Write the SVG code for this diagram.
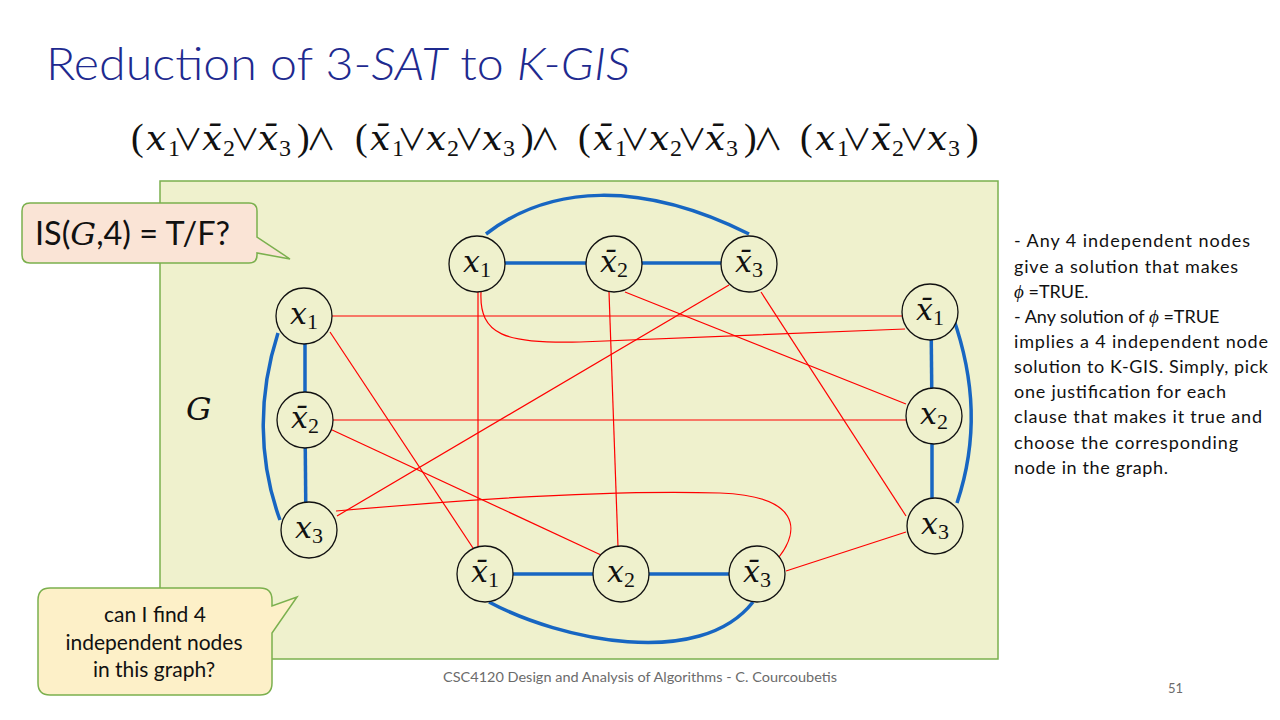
<svg xmlns="http://www.w3.org/2000/svg" width="1280" height="720" viewBox="0 0 1280 720">
<style>
.sans{font-family:Lato,"Liberation Sans",sans-serif}
.blue{stroke:#1766C2;stroke-width:3.5;fill:none;stroke-linecap:butt}
.red{stroke:#FF0000;stroke-width:1.2;fill:none}
.node circle{fill:#EFF1CD;stroke:#111;stroke-width:1.3}
.fm{font-family:"Liberation Serif","DejaVu Serif",serif;fill:#111}
.i{font-family:"DejaVu Serif",serif;font-style:italic;font-size:36px}
.s{font-size:24px}
.p{font-size:38px}
.op{font-family:"Noto Sans CJK JP","DejaVu Sans",sans-serif;font-size:30px;text-anchor:middle}
.nl{font-family:"Liberation Serif","DejaVu Serif",serif;fill:#111}
.nx{font-family:"DejaVu Serif",serif;font-style:italic;font-size:30px}
.ns{font-size:22px}
.rt{font-family:Lato,"Liberation Sans",sans-serif;font-size:18px;fill:#111}
.phi{font-family:"Liberation Serif","DejaVu Serif",serif;font-style:italic;font-size:19px}
</style>
<rect width="1280" height="720" fill="#ffffff"/>
<text class="sans" x="46" y="80" font-size="46" font-weight="300" fill="#1E2A8F" textLength="584" lengthAdjust="spacingAndGlyphs">Reduction of 3-<tspan font-style="italic">SAT</tspan> to <tspan font-style="italic">K-GIS</tspan></text>

<g id="formula">
<g transform="translate(131,0)"><text class="fm"><tspan class="p" x="0" y="150">(</tspan><tspan class="i" x="15" y="150">x</tspan><tspan class="s" x="37" y="156">1</tspan><tspan class="op" x="57" y="150">∨</tspan><tspan class="i" x="71" y="150">x̄</tspan><tspan class="s" x="92" y="156">2</tspan><tspan class="op" x="114" y="150">∨</tspan><tspan class="i" x="127" y="150">x̄</tspan><tspan class="s" x="148" y="156">3</tspan><tspan class="p" x="166" y="150">)</tspan><tspan class="op" x="190" y="150">∧</tspan></text></g>
<g transform="translate(355,0)"><text class="fm"><tspan class="p" x="0" y="150">(</tspan><tspan class="i" x="15" y="150">x̄</tspan><tspan class="s" x="37" y="156">1</tspan><tspan class="op" x="57" y="150">∨</tspan><tspan class="i" x="71" y="150">x</tspan><tspan class="s" x="92" y="156">2</tspan><tspan class="op" x="114" y="150">∨</tspan><tspan class="i" x="127" y="150">x</tspan><tspan class="s" x="148" y="156">3</tspan><tspan class="p" x="166" y="150">)</tspan><tspan class="op" x="190" y="150">∧</tspan></text></g>
<g transform="translate(578,0)"><text class="fm"><tspan class="p" x="0" y="150">(</tspan><tspan class="i" x="15" y="150">x̄</tspan><tspan class="s" x="37" y="156">1</tspan><tspan class="op" x="57" y="150">∨</tspan><tspan class="i" x="71" y="150">x</tspan><tspan class="s" x="92" y="156">2</tspan><tspan class="op" x="114" y="150">∨</tspan><tspan class="i" x="127" y="150">x̄</tspan><tspan class="s" x="148" y="156">3</tspan><tspan class="p" x="166" y="150">)</tspan><tspan class="op" x="190" y="150">∧</tspan></text></g>
<g transform="translate(800,0)"><text class="fm"><tspan class="p" x="0" y="150">(</tspan><tspan class="i" x="15" y="150">x</tspan><tspan class="s" x="37" y="156">1</tspan><tspan class="op" x="57" y="150">∨</tspan><tspan class="i" x="71" y="150">x̄</tspan><tspan class="s" x="92" y="156">2</tspan><tspan class="op" x="114" y="150">∨</tspan><tspan class="i" x="127" y="150">x</tspan><tspan class="s" x="148" y="156">3</tspan><tspan class="p" x="166" y="150">)</tspan></text></g>
</g>

<rect id="panel" x="160" y="181" width="838" height="478" fill="#EFF1CD" stroke="#7BB04E" stroke-width="1.5"/>
<text x="186" y="420" font-family="'DejaVu Serif',serif" font-style="italic" font-size="32" fill="#111">G</text>

<g id="connectors">
<g class="red">
<line x1="332" y1="316" x2="903" y2="316"/>
<line x1="330" y1="332" x2="473" y2="548"/>
<line x1="333" y1="420" x2="906" y2="420"/>
<line x1="330" y1="429" x2="601" y2="555"/>
<line x1="337" y1="516" x2="729" y2="285"/>
<path d="M336 511 C480 498 620 490 720 493 C800 496 800 530 779 557"/>
<line x1="478" y1="292" x2="478" y2="547"/>
<path d="M481 292 C479 335 505 344 580 342 L905 329"/>
<line x1="609" y1="292" x2="618" y2="547"/>
<line x1="625" y1="292" x2="906" y2="404"/>
<line x1="761" y1="292" x2="906" y2="516"/>
<line x1="906" y1="532" x2="786" y2="571"/>
</g>
<g class="blue">
<line x1="477" y1="263" x2="614" y2="263"/>
<line x1="614" y1="263" x2="749" y2="263"/>
<path d="M486 234 C550 185 640 180 749 234"/>
<line x1="305" y1="316" x2="305" y2="420"/>
<line x1="305" y1="420" x2="306" y2="530"/>
<path d="M278 333 C258 395 258 460 280 520"/>
<line x1="931" y1="312" x2="932" y2="416"/>
<line x1="932" y1="416" x2="932" y2="526"/>
<path d="M953 317 C975 380 978 440 957 503"/>
<line x1="485" y1="574" x2="621" y2="574"/>
<line x1="621" y1="574" x2="757" y2="574"/>
<path d="M489 602 C560 640 700 670 753 602"/>
</g>
</g>

<g id="n_t1" class="node"><circle cx="477" cy="264" r="28"/><text class="nl"><tspan class="nx" x="463" y="272">x</tspan><tspan class="ns" x="480" y="277">1</tspan></text></g>
<g id="n_t2" class="node"><circle cx="614" cy="264" r="28"/><text class="nl"><tspan class="nx" x="600" y="272">x̄</tspan><tspan class="ns" x="617" y="277">2</tspan></text></g>
<g id="n_t3" class="node"><circle cx="749" cy="264" r="28"/><text class="nl"><tspan class="nx" x="735" y="272">x̄</tspan><tspan class="ns" x="752" y="277">3</tspan></text></g>
<g id="n_l1" class="node"><circle cx="304" cy="316" r="28"/><text class="nl"><tspan class="nx" x="290" y="324">x</tspan><tspan class="ns" x="307" y="329">1</tspan></text></g>
<g id="n_l2" class="node"><circle cx="305" cy="420" r="28"/><text class="nl"><tspan class="nx" x="291" y="428">x̄</tspan><tspan class="ns" x="308" y="433">2</tspan></text></g>
<g id="n_l3" class="node"><circle cx="309" cy="530" r="28"/><text class="nl"><tspan class="nx" x="295" y="538">x</tspan><tspan class="ns" x="312" y="543">3</tspan></text></g>
<g id="n_r1" class="node"><circle cx="930" cy="312" r="28"/><text class="nl"><tspan class="nx" x="916" y="320">x̄</tspan><tspan class="ns" x="933" y="325">1</tspan></text></g>
<g id="n_r2" class="node"><circle cx="934" cy="416" r="28"/><text class="nl"><tspan class="nx" x="920" y="424">x</tspan><tspan class="ns" x="937" y="429">2</tspan></text></g>
<g id="n_r3" class="node"><circle cx="935" cy="526" r="28"/><text class="nl"><tspan class="nx" x="921" y="534">x</tspan><tspan class="ns" x="938" y="539">3</tspan></text></g>
<g id="n_b1" class="node"><circle cx="485" cy="574" r="28"/><text class="nl"><tspan class="nx" x="471" y="582">x̄</tspan><tspan class="ns" x="488" y="587">1</tspan></text></g>
<g id="n_b2" class="node"><circle cx="621" cy="574" r="28"/><text class="nl"><tspan class="nx" x="607" y="582">x</tspan><tspan class="ns" x="624" y="587">2</tspan></text></g>
<g id="n_b3" class="node"><circle cx="757" cy="574" r="28"/><text class="nl"><tspan class="nx" x="743" y="582">x̄</tspan><tspan class="ns" x="760" y="587">3</tspan></text></g>

<g id="callout1">
<path d="M30 203 H249 Q257 203 257 211 V237 L290 259 L257 253 V255 Q257 263 249 263 H30 Q22 263 22 255 V211 Q22 203 30 203 Z" fill="#FAE4D6" stroke="#7BB04E" stroke-width="1.5"/>
<text class="sans" x="35" y="245" font-size="32" fill="#111" textLength="195" lengthAdjust="spacingAndGlyphs">IS(<tspan font-family="'DejaVu Serif',serif" font-style="italic">G</tspan>,4) = T/F?</text>
</g>

<g id="callout2">
<path d="M50 588 H260 Q272 588 272 600 V606 L297 597 L272 633 V683 Q272 695 260 695 H50 Q38 695 38 683 V600 Q38 588 50 588 Z" fill="#FDF0C8" stroke="#7BB04E" stroke-width="1.5"/>
<g class="sans" font-size="21" fill="#111" text-anchor="middle">
<text x="155" y="622">can I find 4</text>
<text x="154" y="650">independent nodes</text>
<text x="154" y="677">in this graph?</text>
</g>
</g>

<g id="notes">
<text class="rt" x="1014" y="247" textLength="236" lengthAdjust="spacing">- Any 4 independent  nodes</text>
<text class="rt" x="1014" y="273" textLength="224" lengthAdjust="spacing">give a solution that makes</text>
<text class="rt" x="1014" y="298"><tspan class="phi">ϕ</tspan> =TRUE.</text>
<text class="rt" x="1014" y="323">- Any solution of <tspan class="phi">ϕ</tspan> =TRUE</text>
<text class="rt" x="1014" y="348" textLength="254" lengthAdjust="spacing">implies a 4 independent node</text>
<text class="rt" x="1014" y="373" textLength="254" lengthAdjust="spacing">solution to K-GIS. Simply, pick</text>
<text class="rt" x="1014" y="398" textLength="212" lengthAdjust="spacing">one justification for each</text>
<text class="rt" x="1014" y="423" textLength="248" lengthAdjust="spacing">clause that makes it true and</text>
<text class="rt" x="1014" y="449" textLength="224" lengthAdjust="spacing">choose the corresponding</text>
<text class="rt" x="1014" y="474" textLength="154" lengthAdjust="spacing">node in the graph.</text>
</g>

<text class="sans" x="443" y="682" font-size="13" fill="#6B6B6B" textLength="394" lengthAdjust="spacingAndGlyphs">CSC4120 Design and Analysis of Algorithms - C. Courcoubetis</text>
<text class="sans" x="1168" y="693" font-size="13" fill="#6B6B6B">51</text>
</svg>
